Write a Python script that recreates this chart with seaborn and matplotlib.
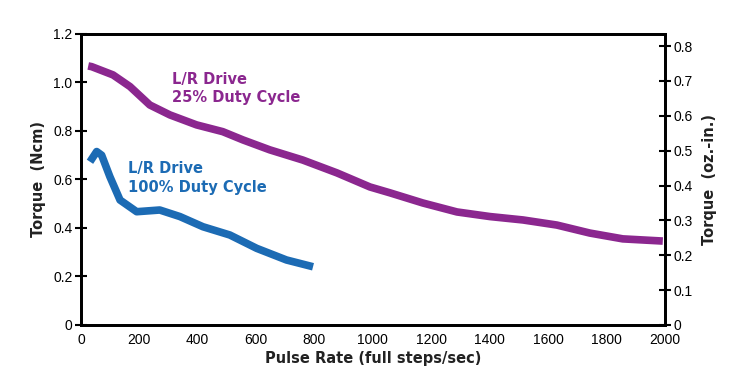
import matplotlib.pyplot as plt
import matplotlib.ticker as mticker
import pandas as pd
import seaborn as sns

sns.set_style("white")
plt.rcParams["font.family"] = ["Liberation Sans", "DejaVu Sans"]

# 25% duty cycle curve (pulse rate, torque Ncm)
rate_25 = [25, 37, 110, 168, 236, 305, 396, 486, 555, 647, 760, 877, 990,
           1058, 1171, 1288, 1401, 1514, 1630, 1743, 1856, 1993]
torque_25 = [1.068, 1.065, 1.031, 0.983, 0.907, 0.866, 0.825, 0.797, 0.763,
             0.722, 0.680, 0.627, 0.569, 0.545, 0.503, 0.466, 0.447, 0.433,
             0.412, 0.379, 0.355, 0.346]

# 100% duty cycle curve
rate_100 = [31, 54, 71, 99, 134, 191, 270, 339, 418, 510, 602, 704, 795]
torque_100 = [0.673, 0.715, 0.700, 0.612, 0.515, 0.467, 0.474, 0.447, 0.405,
              0.371, 0.316, 0.268, 0.240]

x_ticks = [0, 200, 400, 600, 800, 1000, 1200, 1400, 1600, 1800, 2000]
left_ticks = [0, 0.2, 0.4, 0.6, 0.8, 1.0, 1.2]
left_labels = ["0", "0.2", "0.4", "0.6", "0.8", "1.0", "1.2"]
right_ticks = [0, 0.1, 0.2, 0.3, 0.4, 0.5, 0.6, 0.7, 0.8]
right_labels = ["0", "0.1", "0.2", "0.3", "0.4", "0.5", "0.6", "0.7", "0.8"]

purple = "#8B278F"
blue = "#1C6BB4"
bold_font = ["DejaVu Sans"]

df25 = pd.DataFrame({"rate": rate_25, "torque": torque_25})
df100 = pd.DataFrame({"rate": rate_100, "torque": torque_100})

fig = plt.figure(figsize=(7.29, 3.77), dpi=100)
ax = fig.add_axes([0.111, 0.138, 0.801, 0.772])

sns.lineplot(data=df25, x="rate", y="torque", ax=ax, color=purple,
             linewidth=5.5, solid_capstyle="butt")
sns.lineplot(data=df100, x="rate", y="torque", ax=ax, color=blue,
             linewidth=5.5, solid_capstyle="butt")

ax.set_xlim(0, 2000)
ax.set_ylim(0, 1.2)
ax.set_xticks(x_ticks)
ax.set_yticks(left_ticks)
ax.set_yticklabels(left_labels)
ax.xaxis.set_major_formatter(mticker.FormatStrFormatter("%d"))

for s in ax.spines.values():
    s.set_linewidth(2)
    s.set_color("black")

ax.tick_params(axis="both", direction="inout", length=8, width=1.5,
               labelsize=10, colors="black", pad=2)
ax.set_xlabel("Pulse Rate (full steps/sec)", fontsize=10.5, family=bold_font,
              fontweight="bold", color="#222222", labelpad=3)
ax.set_ylabel("Torque  (Ncm)", fontsize=10.5, fontweight="bold",
              family=bold_font, color="#222222", labelpad=5)

ax2 = ax.twinx()
ax2.set_ylim(0, 0.835)
ax2.set_yticks(right_ticks)
ax2.set_yticklabels(right_labels)
for s in ax2.spines.values():
    s.set_linewidth(2)
    s.set_color("black")
ax2.tick_params(axis="y", direction="inout", length=8, width=1.5,
                labelsize=10, colors="black", pad=2)
ax2.set_ylabel("Torque  (oz.-in.)", fontsize=10.5, fontweight="bold",
               family=bold_font, color="#222222", labelpad=7)

ax.text(312, 0.975, "L/R Drive\n25% Duty Cycle", color=purple,
        fontsize=10.5, fontweight="bold", family=bold_font,
        linespacing=1.3, va="center")
ax.text(161, 0.605, "L/R Drive\n100% Duty Cycle", color=blue,
        fontsize=10.5, fontweight="bold", family=bold_font,
        linespacing=1.3, va="center")

fig.savefig("out.png", dpi=100)
